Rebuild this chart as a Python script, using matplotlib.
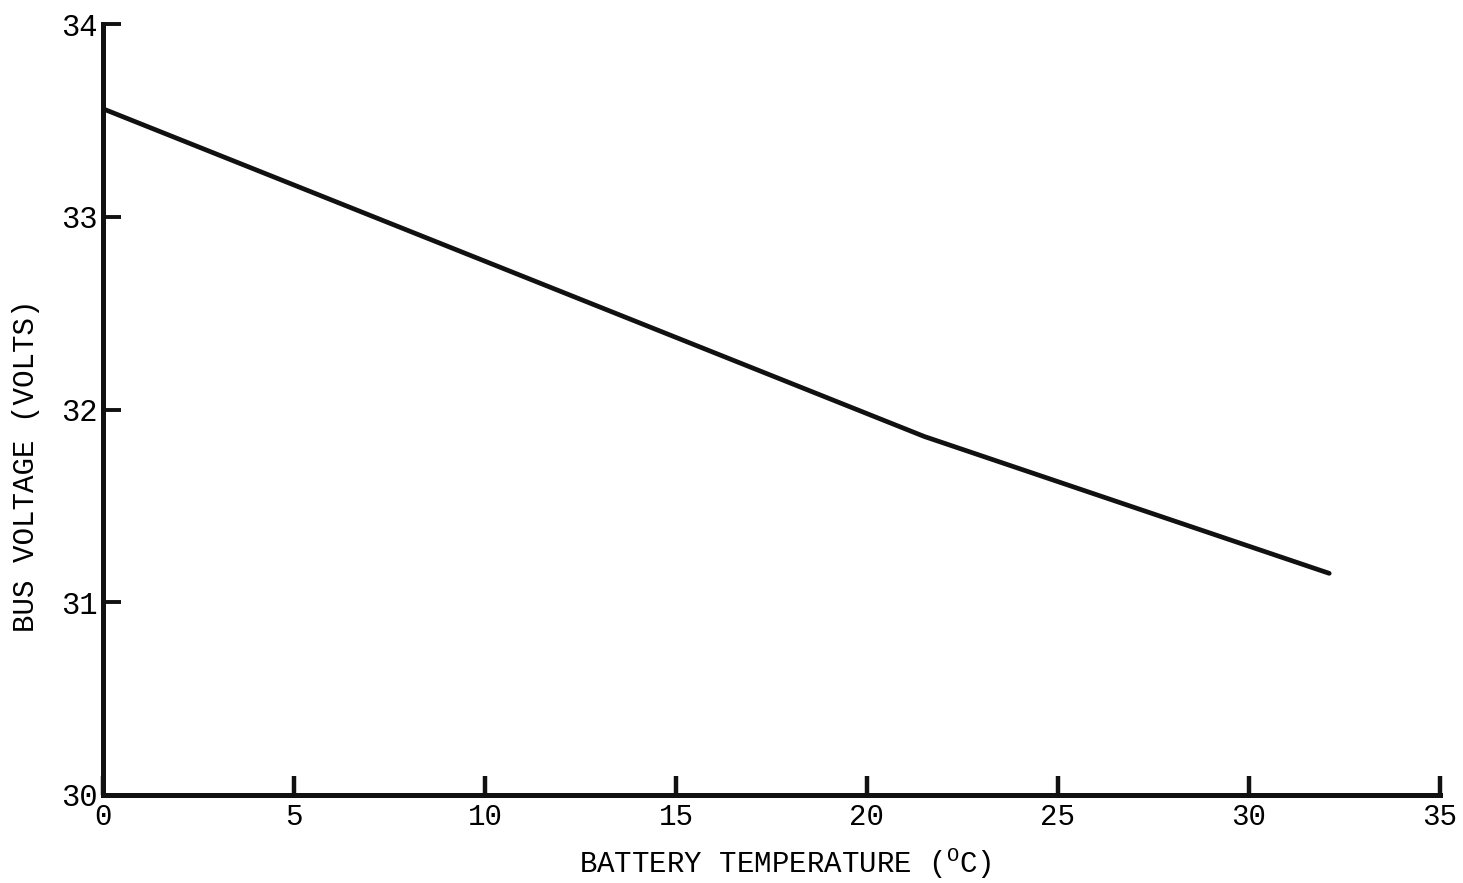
import matplotlib
matplotlib.use("Agg")
import matplotlib.pyplot as plt

# values
temperature = [0, 21.5, 32.1]
bus_voltage = [33.56, 31.86, 31.15]

x_ticks = [0, 5, 10, 15, 20, 25, 30, 35]
y_ticks = [30, 31, 32, 33, 34]

plt.rcParams['font.family'] = 'Liberation Mono'
plt.rcParams['mathtext.fontset'] = 'custom'
plt.rcParams['mathtext.rm'] = 'Liberation Mono'

fig = plt.figure(figsize=(14.63, 8.83), dpi=100)
ax = fig.add_axes([103 / 1463, 1 - 795 / 883, (1440 - 103) / 1463, (795 - 24) / 883])

ax.plot(temperature, bus_voltage, color='#111111', linewidth=3.4, solid_capstyle='round')

ax.set_xlim(0, 35)
ax.set_ylim(30, 34)
ax.set_xticks(x_ticks)
ax.set_yticks(y_ticks)

for side in ['top', 'right']:
    ax.spines[side].set_visible(False)
for side in ['left', 'bottom']:
    ax.spines[side].set_linewidth(3.6)
    ax.spines[side].set_color('#111111')

ax.tick_params(axis='y', direction='in', length=13, width=2.8, pad=4, labelsize=22, color='#111111')
ax.tick_params(axis='x', direction='in', length=14, width=3.2, pad=6, labelsize=21, color='#111111')

ax.set_xlabel('BATTERY TEMPERATURE ($^{\\mathrm{O}}$C)', fontsize=21)
ax.set_ylabel('BUS VOLTAGE (VOLTS)', fontsize=21)
ax.xaxis.set_label_coords(0.51, -0.066)
ax.yaxis.set_label_coords(-0.047, 0.427)

plt.savefig('out.png', dpi=100)
